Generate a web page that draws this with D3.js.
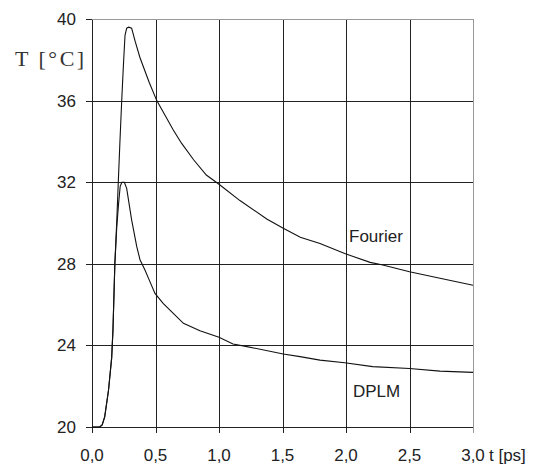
<!DOCTYPE html>
<html>
<head>
<meta charset="utf-8">
<script src="https://cdn.jsdelivr.net/npm/d3@7"></script>
<style>
  body { margin: 0; background: #fff; }
  svg { display: block; }
  text { font-family: "Liberation Sans", Arial, sans-serif; fill: #222; }
</style>
</head>
<body>
<svg id="chart" width="550" height="468"></svg>
<script>
// time in ps, temperature in degC
const tFourier = [0, 0.06, 0.08, 0.10, 0.13, 0.155, 0.165, 0.18, 0.195, 0.207, 0.22, 0.234, 0.247, 0.26, 0.273, 0.29, 0.312, 0.34, 0.378, 0.45, 0.51, 0.64, 0.706, 0.80, 0.90, 1.0, 1.165, 1.376, 1.506, 1.64, 1.795, 1.99, 2.19, 2.29, 2.5, 2.74, 3.0];
const TFourier = [20, 20, 20.1, 20.5, 21.8, 23.4, 24.75, 28.0, 30.1, 32.0, 34.0, 36.0, 37.7, 39.2, 39.55, 39.6, 39.55, 38.9, 38.1, 36.9, 36.0, 34.56, 33.9, 33.1, 32.35, 31.9, 31.1, 30.2, 29.74, 29.3, 29.0, 28.5, 28.07, 27.94, 27.61, 27.29, 26.95];

const tDPLM = [0, 0.06, 0.08, 0.10, 0.13, 0.155, 0.165, 0.18, 0.195, 0.21, 0.222, 0.235, 0.255, 0.273, 0.312, 0.352, 0.378, 0.417, 0.451, 0.496, 0.56, 0.64, 0.72, 0.85, 1.0, 1.11, 1.22, 1.506, 1.638, 1.795, 1.99, 2.21, 2.5, 2.74, 3.0];
const TDPLM = [20, 20, 20.1, 20.5, 21.8, 23.4, 24.75, 28.0, 29.8, 31.0, 31.8, 32.0, 32.0, 31.7, 30.15, 28.85, 28.2, 27.7, 27.2, 26.55, 26.06, 25.57, 25.08, 24.72, 24.4, 24.07, 23.94, 23.58, 23.45, 23.28, 23.15, 22.96, 22.87, 22.74, 22.68];

const xTicks = [0, 0.5, 1.0, 1.5, 2.0, 2.5, 3.0];
const xTickLabels = ["0,0", "0,5", "1,0", "1,5", "2,0", "2,5", "3,0"];
const yTicks = [20, 24, 28, 32, 36, 40];
const yTickLabels = ["20", "24", "28", "32", "36", "40"];

const svg = d3.select("#chart");

const x = d3.scaleLinear().domain([0, 3]).range([92, 473]);
const y = d3.scaleLinear().domain([20, 40]).range([427, 19]);

const px = v => Math.round(v) + 0.5;

// grid + ticks
const grid = svg.append("g").attr("shape-rendering", "crispEdges");

grid.selectAll(".vgrid")
	.data(xTicks)
	.enter()
	.append("line")
	.attr("x1", d => px(x(d)))
	.attr("x2", d => px(x(d)))
	.attr("y1", y(40))
	.attr("y2", y(20) + 6)
	.attr("stroke", d => d === 3 ? "#999" : "#222");

grid.selectAll(".hgrid")
	.data(yTicks)
	.enter()
	.append("line")
	.attr("x1", x(0))
	.attr("x2", x(3))
	.attr("y1", d => px(y(d)))
	.attr("y2", d => px(y(d)))
	.attr("stroke", d => d === 40 ? "#999" : "#222");

// left tick marks
grid.selectAll(".ytick")
	.data(yTicks)
	.enter()
	.append("line")
	.attr("x1", x(0) - 6)
	.attr("x2", x(0))
	.attr("y1", d => px(y(d)))
	.attr("y2", d => px(y(d)))
	.attr("stroke", "#222");

// curves
const line = d3.line()
	.x(d => x(d[0]))
	.y(d => y(d[1]));

svg.append("path")
	.datum(d3.zip(tFourier, TFourier))
	.attr("d", line)
	.attr("fill", "none")
	.attr("stroke", "#111")
	.attr("stroke-width", 1.1);

svg.append("path")
	.datum(d3.zip(tDPLM, TDPLM))
	.attr("d", line)
	.attr("fill", "none")
	.attr("stroke", "#111")
	.attr("stroke-width", 1.1);

// tick labels
svg.selectAll(".ylab")
	.data(yTicks)
	.enter()
	.append("text")
	.attr("x", 76)
	.attr("y", d => y(d) + 6)
	.attr("text-anchor", "end")
	.attr("font-size", 17)
	.text((d, i) => yTickLabels[i]);

svg.selectAll(".xlab")
	.data(xTicks)
	.enter()
	.append("text")
	.attr("x", d => x(d))
	.attr("y", 461)
	.attr("text-anchor", "middle")
	.attr("font-size", 17)
	.text((d, i) => xTickLabels[i]);

svg.append("text")
	.attr("x", 489)
	.attr("y", 461)
	.attr("font-size", 17)
	.text("t [ps]");

svg.append("text")
	.attr("x", 15)
	.attr("y", 66)
	.attr("font-size", 22)
	.attr("letter-spacing", 2.5)
	.style("font-family", "'Liberation Serif', 'Times New Roman', serif")
	.style("fill", "#333")
	.text("T [°C]");

// curve labels
svg.append("text")
	.attr("x", 349)
	.attr("y", 242)
	.attr("font-size", 17)
	.text("Fourier");

svg.append("text")
	.attr("x", 353)
	.attr("y", 397)
	.attr("font-size", 17)
	.text("DPLM");
</script>
</body>
</html>
